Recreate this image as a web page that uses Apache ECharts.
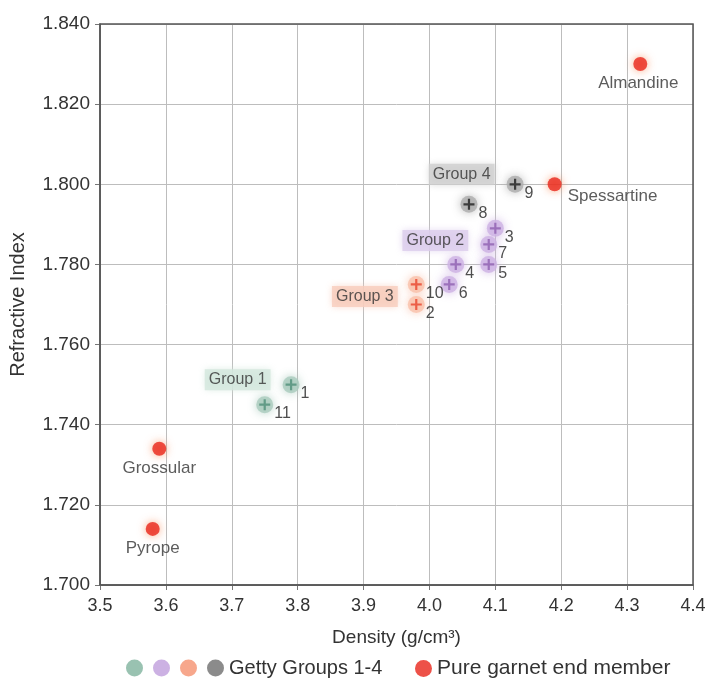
<!DOCTYPE html>
<html>
<head>
<meta charset="utf-8">
<script src="https://cdn.jsdelivr.net/npm/echarts@6/dist/echarts.min.js"></script>
<style>
  html, body { margin: 0; padding: 0; background: #fff; }
  #chart { width: 706px; height: 680px; }
</style>
</head>
<body>
<div id="chart"></div>
<script>
// Getty groups: density, refractive index, point number
const group1Density = [3.79, 3.75]
const group1RI = [1.750, 1.745]
const group1Ids = ['1', '11']

const group2Density = [4.10, 4.09, 4.09, 4.04, 4.03]
const group2RI = [1.789, 1.785, 1.780, 1.780, 1.775]
const group2Ids = ['3', '7', '5', '4', '6']

const group3Density = [3.98, 3.98]
const group3RI = [1.775, 1.770]
const group3Ids = ['10', '2']

const group4Density = [4.13, 4.06]
const group4RI = [1.800, 1.795]
const group4Ids = ['9', '8']

// pure garnet end members
const endNames = ['Almandine', 'Spessartine', 'Grossular', 'Pyrope']
const endDensity = [4.32, 4.19, 3.59, 3.58]
const endRI = [1.830, 1.800, 1.734, 1.714]

const xTicks = [3.5, 3.6, 3.7, 3.8, 3.9, 4.0, 4.1, 4.2, 4.3, 4.4]
const yTicks = [1.700, 1.720, 1.740, 1.760, 1.780, 1.800, 1.820, 1.840]

const font = 'Liberation Sans, Arial, sans-serif'

const groups = [
    { name: 'Group 1', xs: group1Density, ys: group1RI, ids: group1Ids, fill: '#a9cbbd', plus: '#4f8f78', icon: '#7fb39d', tag: '#d3e7dd', tagAt: 0, tagOffset: [-2, -5] },
    { name: 'Group 2', xs: group2Density, ys: group2RI, ids: group2Ids, fill: '#cdb2e4', plus: '#8e5fb0', icon: '#bf9ddc', tag: '#dccdec', tagAt: 1, tagOffset: [-2, -4] },
    { name: 'Group 3', xs: group3Density, ys: group3RI, ids: group3Ids, fill: '#f9c0aa', plus: '#e8432c', icon: '#f5916f', tag: '#f7cdbd', tagAt: 0, tagOffset: [0, 12] },
    { name: 'Group 4', xs: group4Density, ys: group4RI, ids: group4Ids, fill: '#adadad', plus: '#1e1e1e', icon: '#6e6e6e', tag: '#cfcfcf', tagAt: 0, tagOffset: [-2, -10] }
]

const plusPath = 'path://M4,0 L6,0 L6,4 L10,4 L10,6 L6,6 L6,10 L4,10 L4,6 L0,6 L0,4 L4,4 Z'

let seriesData = []
groups.forEach((g) => {
    // soft disc with the group tag
    seriesData.push({
        name: g.name,
        type: 'scatter',
        symbol: 'circle',
        symbolSize: 17,
        z: 2,
        itemStyle: {
            color: g.fill,
            shadowBlur: 10,
            shadowColor: g.fill
        },
        data: g.xs.map((x, i) => {
            let item = { value: [x, g.ys[i]] }
            if (i === g.tagAt) {
                item.label = {
                    show: true,
                    position: 'left',
                    distance: 10,
                    offset: g.tagOffset,
                    formatter: g.name,
                    color: '#333',
                    fontSize: 16,
                    fontFamily: font,
                    backgroundColor: g.tag,
                    padding: [3, 4, 2, 4],
                    shadowBlur: 7,
                    shadowColor: g.tag
                }
            }
            return item
        })
    })
    // plus mark and point number
    seriesData.push({
        name: g.name + ' mark',
        type: 'scatter',
        symbol: plusPath,
        symbolSize: 11,
        z: 3,
        itemStyle: { color: g.plus },
        label: {
            show: true,
            position: 'right',
            distance: 4,
            offset: [0, 9],
            formatter: (p) => g.ids[p.dataIndex],
            color: '#222',
            fontSize: 16,
            fontFamily: font
        },
        data: g.xs.map((x, i) => [x, g.ys[i]])
    })
})

const endLabelPos = ['bottom', 'right', 'bottom', 'bottom']
const endLabelOffset = [[-2, -2], [0, 12], [0, -2], [0, -2]]
seriesData.push({
    name: 'Pure garnet end member',
    type: 'scatter',
    symbol: 'circle',
    symbolSize: 14,
    z: 4,
    itemStyle: {
        color: '#e8251a',
        shadowBlur: 8,
        shadowColor: 'rgba(250, 140, 90, 0.9)'
    },
    data: endNames.map((n, i) => ({
        value: [endDensity[i], endRI[i]],
        label: {
            show: true,
            position: endLabelPos[i],
            distance: 6,
            offset: endLabelOffset[i],
            formatter: n,
            color: '#333',
            fontSize: 17,
            fontFamily: font
        }
    }))
})

const chart = echarts.init(document.getElementById('chart'))
chart.setOption({
    backgroundColor: '#fff',
    animation: false,
    grid: { left: 100, right: 13, top: 24, bottom: 95, containLabel: false, outerBoundsMode: 'none' },
    xAxis: {
        type: 'value',
        min: xTicks[0],
        max: xTicks[xTicks.length - 1],
        interval: 0.1,
        name: 'Density (g/cm³)',
        nameLocation: 'middle',
        nameGap: 43,
        nameTextStyle: { color: '#333', fontSize: 19, fontFamily: font },
        axisLine: { show: true, lineStyle: { color: '#555', width: 1.5 } },
        axisTick: { show: true, length: 5, lineStyle: { color: '#777' } },
        axisLabel: {
            color: '#333', fontSize: 18, fontFamily: font, margin: 12,
            formatter: (v) => v.toFixed(1)
        },
        splitLine: { show: true, lineStyle: { color: '#bdbdbd', width: 1 } }
    },
    yAxis: {
        type: 'value',
        min: yTicks[0],
        max: yTicks[yTicks.length - 1],
        interval: 0.02,
        name: 'Refractive Index',
        nameLocation: 'middle',
        nameGap: 72,
        nameTextStyle: { color: '#333', fontSize: 20, fontFamily: font },
        axisLine: { show: true, lineStyle: { color: '#555', width: 1.5 } },
        axisTick: { show: true, length: 5, lineStyle: { color: '#777' } },
        axisLabel: {
            color: '#333', fontSize: 19, fontFamily: font, margin: 10,
            formatter: (v) => v.toFixed(3)
        },
        splitLine: { show: true, lineStyle: { color: '#bdbdbd', width: 1 } }
    },
    legend: [
        {
            left: 121,
            top: 653,
            itemGap: 10,
            itemWidth: 17,
            itemHeight: 17,
            icon: 'circle',
            textStyle: { color: '#333', fontSize: 20, fontFamily: font },
            formatter: (n) => n === 'Group 4' ? 'Getty Groups 1-4' : '',
            data: groups.map((g) => ({ name: g.name, itemStyle: { color: g.icon } }))
        },
        {
            left: 410,
            top: 653,
            itemWidth: 17,
            itemHeight: 17,
            icon: 'circle',
            textStyle: { color: '#333', fontSize: 21, fontFamily: font },
            data: ['Pure garnet end member']
        }
    ],
    series: seriesData
})

// close the frame on top and right
const topLeft = chart.convertToPixel({ gridIndex: 0 }, [xTicks[0], yTicks[yTicks.length - 1]])
const botRight = chart.convertToPixel({ gridIndex: 0 }, [xTicks[xTicks.length - 1], yTicks[0]])
chart.setOption({
    graphic: [{
        type: 'rect',
        shape: { x: topLeft[0], y: topLeft[1], width: botRight[0] - topLeft[0], height: botRight[1] - topLeft[1] },
        style: { fill: 'none', stroke: '#555', lineWidth: 1.5 },
        silent: true,
        z: 1
    }]
})
</script>
</body>
</html>
